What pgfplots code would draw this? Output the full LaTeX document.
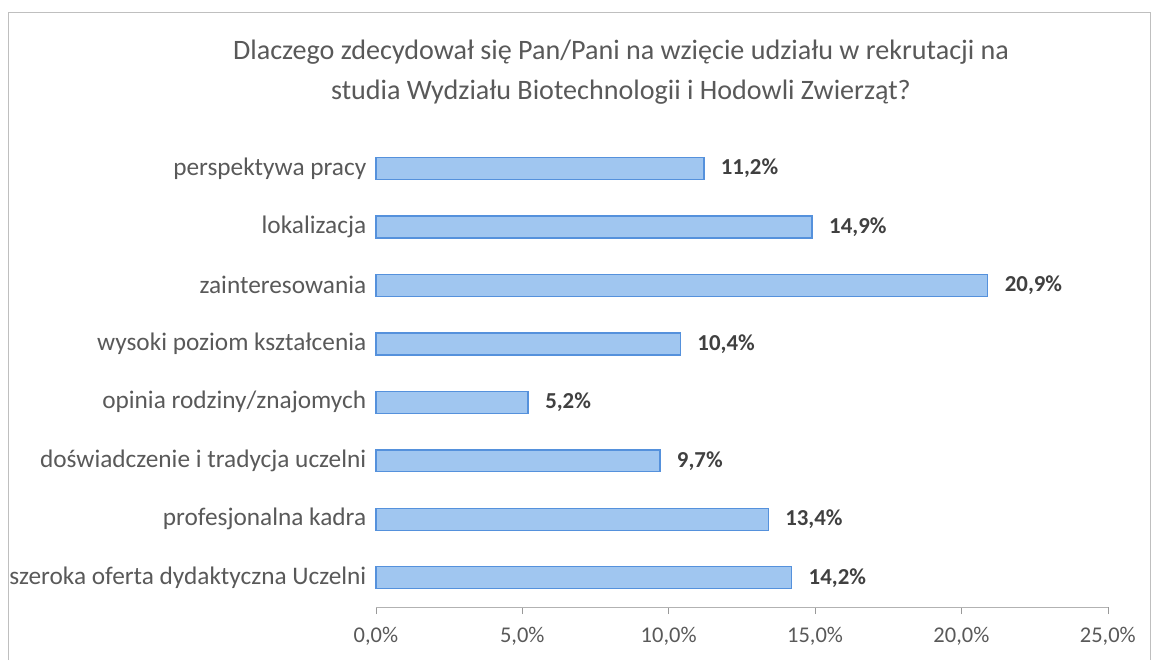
\documentclass[border=0pt]{standalone}
\usepackage{pgfplots}
\pgfplotsset{compat=1.18}
\usepackage{fontspec}
\setmainfont{Carlito}
\definecolor{barfill}{RGB}{160,198,240}
\definecolor{barline}{RGB}{85,145,220}
\definecolor{txt}{RGB}{89,89,89}
\definecolor{val}{RGB}{64,64,64}
\begin{document}
\begin{tikzpicture}[x=0.02cm,y=0.02cm]
\useasboundingbox (0,0) rectangle (1152,660);
\draw[black!25] (8,0) -- (8,648) -- (1150,648) -- (1150,0);
\node[align=center, text=txt, font=\fontsize{16}{23}\selectfont] at (621,588)
  {Dlaczego zdecydował się Pan/Pani na wzięcie udziału w rekrutacji na\\studia Wydziału Biotechnologii i Hodowli Zwierząt?};
\begin{axis}[
    at={(7.52cm,1.06cm)}, anchor=south west,
    scale only axis, width=14.64cm, height=9.36cm,
    xbar, bar width=0.44cm,
    xmin=0, xmax=25, ymin=-0.5, ymax=7.5,
    xtick={0,5,10,15,20,25},
    xticklabel={\pgfmathprintnumber[fixed,fixed zerofill,precision=1,use comma]{\tick}\%},
    /pgf/number format/assume math mode=true,
    ytick={0,...,7},
    yticklabels={szeroka oferta dydaktyczna Uczelni, profesjonalna kadra, doświadczenie i tradycja uczelni, opinia rodziny/znajomych, wysoki poziom kształcenia, zainteresowania, lokalizacja, perspektywa pracy},
    axis x line*=bottom, axis y line*=left,
    x axis line style={black!30},
    y axis line style={draw=none},
    xtick style={black!40}, ytick style={draw=none},
    tick align=outside, major tick length=4pt,
    ticklabel style={text=txt, font=\fontsize{12.8}{14}\selectfont},
    yticklabel style={xshift=2pt, font=\fontsize{14.4}{16}\selectfont},
    xticklabel style={yshift=-4pt},
    nodes near coords={\pgfmathprintnumber[fixed,fixed zerofill,precision=1,use comma]{\pgfplotspointmeta}\%},
    nodes near coords style={text=val, font=\bfseries\fontsize{13}{14}\selectfont, anchor=west, xshift=6pt},
    point meta=explicit,
    clip=false,
]
\addplot[fill=barfill, draw=barline, line width=0.8pt] coordinates {
  (14.2,0) [14.2]
  (13.4,1) [13.4]
  (9.7,2) [9.7]
  (5.2,3) [5.2]
  (10.4,4) [10.4]
  (20.9,5) [20.9]
  (14.9,6) [14.9]
  (11.2,7) [11.2]
};
\end{axis}
\end{tikzpicture}
\end{document}
